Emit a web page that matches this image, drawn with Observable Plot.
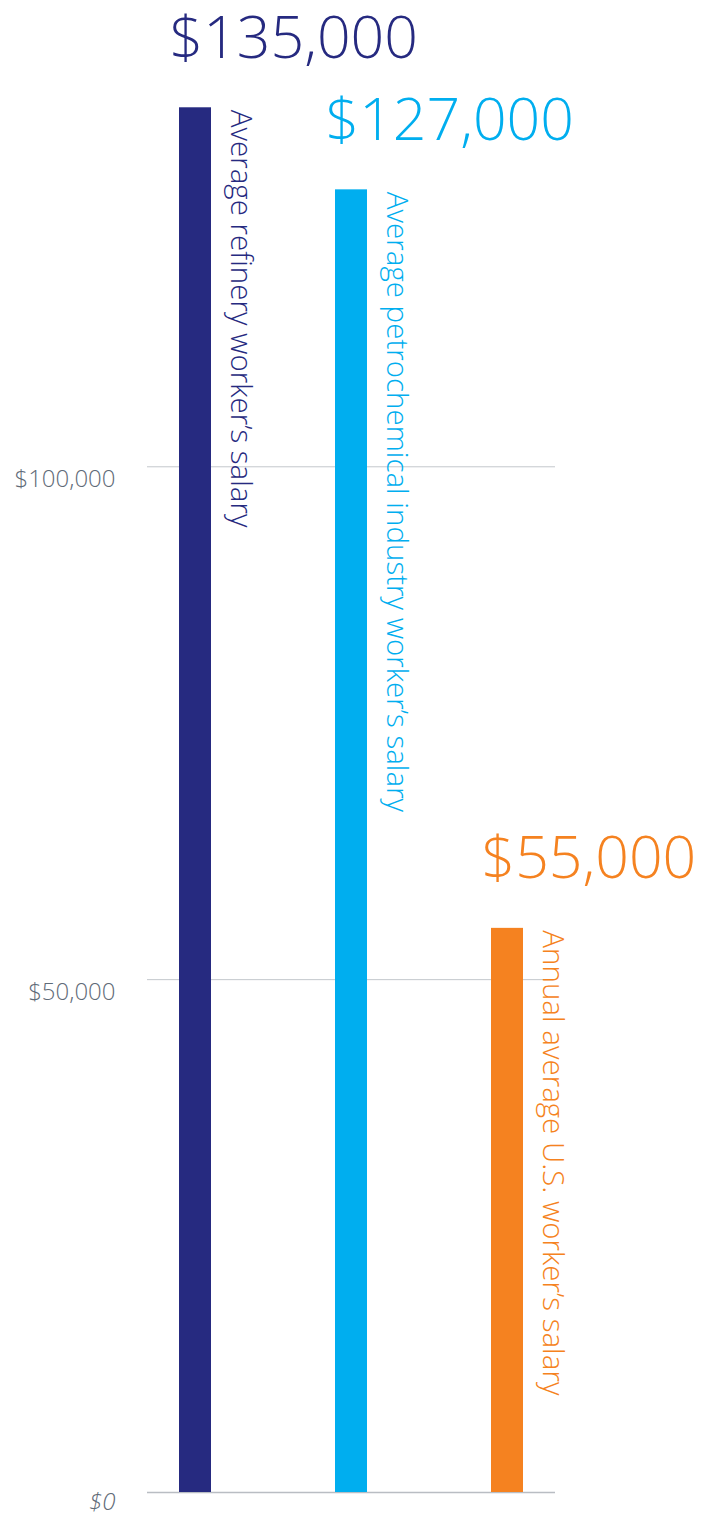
<!DOCTYPE html>
<html><head><meta charset="utf-8">
<script src="https://cdn.jsdelivr.net/npm/d3@7"></script>
<script src="https://cdn.jsdelivr.net/npm/@observablehq/plot@0.6"></script>
<style>html,body{margin:0;padding:0;background:#fff} svg{display:block}</style>
</head><body><div id="chart"></div>
<script>
const categories = [
  "Average refinery worker’s salary",
  "Average petrochemical industry worker’s salary",
  "Annual average U.S. worker’s salary"
];
const salaries = [135000, 127000, 55000];
const valueLabels = ["$135,000", "$127,000", "$55,000"];
const yTicks = [0, 50000, 100000];
const barColors = ["#262a80", "#00aeef", "#f58220"];

const data = categories.map((c, i) => ({category: c, salary: salaries[i], label: valueLabels[i]}));
const fmt = d => "$" + d3.format(",")(d);

const chart = Plot.plot({
  width: 713,
  height: 1516,
  marginLeft: 147,
  marginRight: 158,
  marginTop: 56,
  marginBottom: 24,
  style: {fontFamily: "'Open Sans', sans-serif", background: "#fff"},
  x: {type: "band", domain: categories, paddingInner: 0.795, paddingOuter: 0.2, axis: null},
  y: {domain: [0, 140000], axis: null},
  color: {type: "ordinal", domain: categories, range: barColors},
  marks: [
    Plot.gridY(yTicks.filter(d => d > 0), {stroke: "#c3c7cc", strokeOpacity: 1, strokeWidth: 1}),
    Plot.ruleY([0], {stroke: "#b9bdc3", strokeWidth: 1.5}),
    Plot.axisY(yTicks.filter(d => d > 0), {tickSize: 0, tickPadding: 32, dy: 13, fontSize: 24, fontWeight: 300, color: "#5f6b78", tickFormat: fmt, label: null}),
    Plot.axisY([0], {tickSize: 0, tickPadding: 32, dy: 10, fontSize: 24, fontWeight: 300, color: "#5f6b78", fontStyle: "italic", tickFormat: fmt, label: null}),
    Plot.barY(data, {x: "category", y: "salary", fill: "category"}),
    Plot.text(data, {x: "category", y: "salary", text: "label", fill: "category", textAnchor: "start", lineAnchor: "bottom", dx: -26, dy: -50, fontSize: 59, fontWeight: 300}),
    Plot.text(data, {x: "category", y: "salary", text: "category", fill: "category", rotate: 90, textAnchor: "start", lineAnchor: "bottom", dx: 35, dy: 2, fontSize: 29.5, fontWeight: 300})
  ]
});
document.getElementById("chart").appendChild(chart);
</script>
</body></html>
